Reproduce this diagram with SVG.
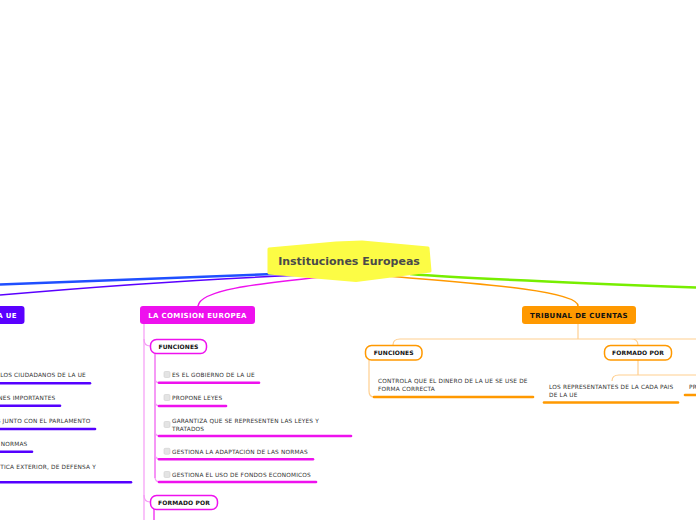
<svg xmlns="http://www.w3.org/2000/svg" width="696" height="520" viewBox="0 0 696 520">
<style>
.t{font-family:"DejaVu Sans",Verdana,sans-serif;font-size:5.8px;letter-spacing:0.2px;fill:#333}
.h{font-family:"DejaVu Sans",Verdana,sans-serif;font-weight:bold;font-size:7px;letter-spacing:0.35px;text-anchor:middle}
.s{font-family:"DejaVu Sans",Verdana,sans-serif;font-weight:bold;font-size:6px;letter-spacing:0.1px;text-anchor:middle;fill:#111}
.cb{fill:#e4e4e4;stroke:#cfcfcf;stroke-width:0.6}
.um{stroke:#ee11ee;stroke-width:2.6;stroke-linecap:round;fill:none}
.up{stroke:#5500ff;stroke-width:2.6;stroke-linecap:round;fill:none}
.uo{stroke:#ff9900;stroke-width:2.6;stroke-linecap:round;fill:none}
.lm{stroke:#f59af5;stroke-width:1.2;fill:none}
.lo{stroke:#ffcf8f;stroke-width:1.2;fill:none}
</style>
<rect width="696" height="520" fill="#fff"/>
<g id="connectors">
<path d="M300,273 C200,277 100,281 0,284.5" stroke="#1f4fff" stroke-width="2.6" fill="none"/>
<path d="M305,275 C200,279 80,288 0,295" stroke="#5a00ff" stroke-width="1.5" fill="none"/>
<path d="M322,277 C255,284 200,290 198,306" stroke="#ee11ee" stroke-width="1.5" fill="none"/>
<path d="M385,276 C470,283 578,290 578,306" stroke="#ff9900" stroke-width="1.5" fill="none"/>
<path d="M410,274 Q470,279 696,287.5" stroke="#77ee00" stroke-width="2.4" fill="none"/>
<path class="lm" d="M144,324 V520"/>
<path class="lm" d="M144,339 Q144,346 150,346"/>
<path class="lm" d="M144,495 Q144,502 150,502"/>
<path d="M155,353 V478" stroke="#ee11ee" stroke-width="1" fill="none"/>
<path class="lm" d="M155,353 V378 Q155,383 160,383"/>
<path class="lm" d="M155,353 V401 Q155,406 160,406"/>
<path class="lm" d="M155,353 V431 Q155,436 160,436"/>
<path class="lm" d="M155,353 V454 Q155,459 160,459"/>
<path class="lm" d="M155,353 V477 Q155,482 160,482"/>
<path d="M154,509 V520" stroke="#ee11ee" stroke-width="1.2" fill="none"/>
<path class="lo" d="M578,324 V339 M578,339 H400 Q393,339 393,345"/>
<path class="lo" d="M578,339 H631 Q638,339 638,345 M631,339 H696"/>
<path class="lo" d="M369,360 V391 Q369,397 374,397"/>
<path class="lo" d="M638,360 V375 M638,375 H619 Q612,375 612,381 M638,375 H696"/>
</g>
<g id="central">
<polygon points="269,249 336,243 362,242 428,248 430,271 356,280.5 269,273" fill="#fcfc45" stroke="#fcfc45" stroke-width="3" stroke-linejoin="round"/>
<text x="349" y="265" font-family="DejaVu Sans,Verdana,sans-serif" font-weight="bold" font-size="11" fill="#4a4a4a" text-anchor="middle">Instituciones Europeas</text>
</g>
<g id="consejo">
<rect x="-10" y="306" width="34.5" height="18" rx="3" fill="#5a00ff"/>
<text class="h" x="17" y="317.5" fill="#fff" style="text-anchor:end">A UE</text>
</g>
<g id="consejo-items">
<text class="t" x="86" y="377" text-anchor="end">LOS CIUDADANOS DE LA UE</text>
<path class="up" d="M-2,383.3 H90"/>
<text class="t" x="55.5" y="400.3" text-anchor="end">NES IMPORTANTES</text>
<path class="up" d="M-2,405.7 H60"/>
<text class="t" x="90.5" y="423" text-anchor="end">S JUNTO CON EL PARLAMENTO</text>
<path class="up" d="M-2,429 H95"/>
<text class="t" x="27.5" y="445.7" text-anchor="end">NORMAS</text>
<path class="up" d="M-2,451.7 H32"/>
<text class="t" x="96" y="469" text-anchor="end">TICA EXTERIOR, DE DEFENSA Y</text>
<path class="up" d="M-2,482.3 H131"/>
</g>
<g id="comision">
<rect x="140" y="306" width="115" height="18" rx="3" fill="#ee11ee"/>
<text class="h" x="197.5" y="317.5" fill="#fff">LA COMISION EUROPEA</text>
</g>
<g id="comision-funciones">
<rect x="150.5" y="339.5" width="56" height="14" rx="6" fill="#fff" stroke="#ee11ee" stroke-width="1.5"/>
<text class="s" x="178.5" y="348.6">FUNCIONES</text>
</g>
<g id="comision-f1">
<rect class="cb" x="164" y="371.5" width="6" height="6" rx="1.2"/>
<text class="t" x="172" y="377">ES EL GOBIERNO DE LA UE</text>
<path class="um" d="M159,382.7 H259"/>
</g>
<g id="comision-f2">
<rect class="cb" x="164" y="394.5" width="6" height="6" rx="1.2"/>
<text class="t" x="172" y="400.3">PROPONE LEYES</text>
<path class="um" d="M159,406 H226"/>
</g>
<g id="comision-f3">
<rect class="cb" x="164" y="421.5" width="6" height="6" rx="1.2"/>
<text class="t" x="172" y="423">GARANTIZA QUE SE REPRESENTEN LAS LEYES Y</text>
<text class="t" x="172" y="431">TRATADOS</text>
<path class="um" d="M159,436 H351"/>
</g>
<g id="comision-f4">
<rect class="cb" x="164" y="448.3" width="6" height="6" rx="1.2"/>
<text class="t" x="172" y="453.7">GESTIONA LA ADAPTACIÓN DE LAS NORMAS</text>
<path class="um" d="M159,459.3 H313"/>
</g>
<g id="comision-f5">
<rect class="cb" x="164" y="471.5" width="6" height="6" rx="1.2"/>
<text class="t" x="172" y="476.7">GESTIONA EL USO DE FONDOS ECONOMICOS</text>
<path class="um" d="M159,482 H316"/>
</g>
<g id="comision-formado">
<rect x="150.5" y="495.5" width="67" height="14" rx="6" fill="#fff" stroke="#ee11ee" stroke-width="1.5"/>
<text class="s" x="184" y="504.5">FORMADO POR</text>
</g>
<g id="tribunal">
<rect x="522" y="306" width="114" height="18" rx="3" fill="#ff9900"/>
<text class="h" x="579" y="317.5" fill="#111">TRIBUNAL DE CUENTAS</text>
</g>
<g id="tribunal-funciones">
<rect x="365.5" y="345.5" width="56.5" height="14.5" rx="6" fill="#fff" stroke="#ff9900" stroke-width="1.5"/>
<text class="s" x="393.7" y="354.8">FUNCIONES</text>
</g>
<g id="tribunal-f1">
<text class="t" x="378" y="382.7">CONTROLA QUE EL DINERO DE LA UE SE USE DE</text>
<text class="t" x="378" y="391">FORMA CORRECTA</text>
<path class="uo" d="M374,397 H533"/>
</g>
<g id="tribunal-formado">
<rect x="604.5" y="345.5" width="67" height="14.5" rx="6" fill="#fff" stroke="#ff9900" stroke-width="1.5"/>
<text class="s" x="638" y="354.8">FORMADO POR</text>
</g>
<g id="tribunal-r1">
<text class="t" x="549" y="388.7">LOS REPRESENTANTES DE LA CADA PAIS</text>
<text class="t" x="549" y="396.7">DE LA UE</text>
<path class="uo" d="M544,402.5 H678"/>
</g>
<g id="tribunal-r2">
<text class="t" x="689" y="389.3">PR</text>
<path class="uo" d="M685,395 H698"/>
</g>
</svg>
